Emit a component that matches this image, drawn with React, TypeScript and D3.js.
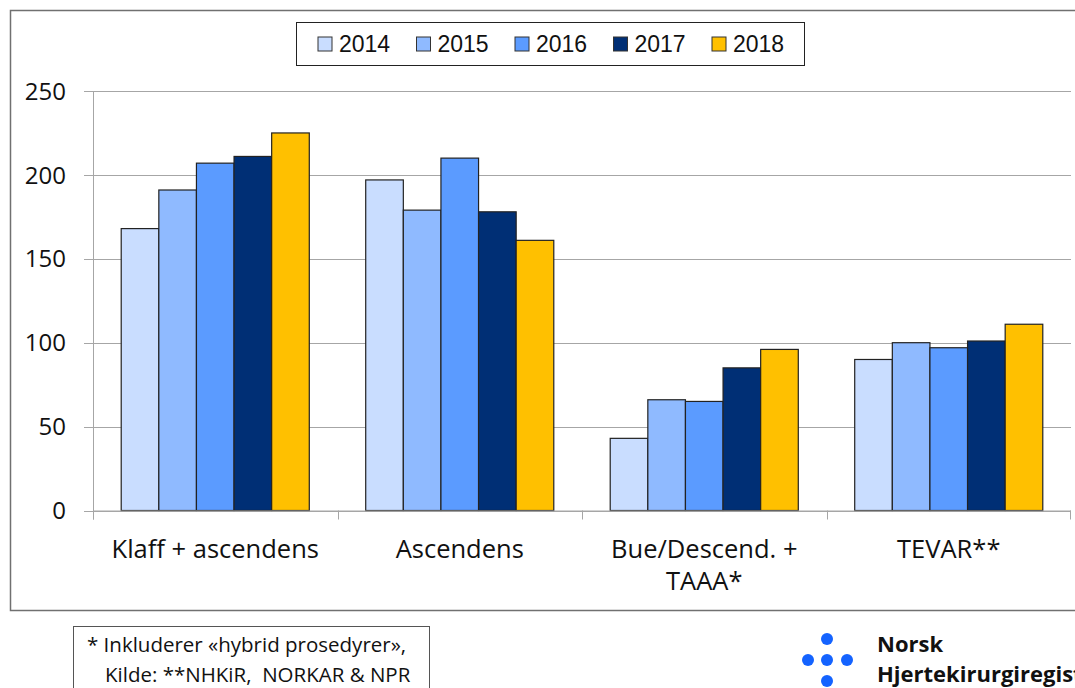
import * as d3 from "d3";

// data
const categories = ["Klaff + ascendens", "Ascendens", "Bue/Descend. +\nTAAA*", "TEVAR**"];
const years = ["2014", "2015", "2016", "2017", "2018"];
const v2014 = [168, 197, 43, 90];
const v2015 = [191, 179, 66, 100];
const v2016 = [207, 210, 65, 97];
const v2017 = [211, 178, 85, 101];
const v2018 = [225, 161, 96, 111];
const yTicks = [0, 50, 100, 150, 200, 250];

const series = [v2014, v2015, v2016, v2017, v2018];
const COLORS = ["#C9DDFF", "#8FBAFF", "#5B9BFF", "#002F75", "#FFC000"];

const W = 1075;
const H = 688;
const TICK_FONT = "'Open Sans', sans-serif";

export default function App() {
  const x0 = d3.scaleBand().domain(categories).range([93, 1071]).padding(0);
  const x1 = d3
    .scaleBand()
    .domain(years)
    .range([0, x0.bandwidth()])
    .paddingInner(0)
    .paddingOuter(0.75);
  const y = d3.scaleLinear().domain([0, 250]).range([510.5, 91]);

  const left = 93;
  const right = 1071;
  const base = y(0);

  return (
    <div style={{ position: "absolute", left: 0, top: 0, width: W, height: H, overflow: "hidden", background: "#fff" }}>
      <svg width={W} height={H} style={{ display: "block" }}>
        {/* outer frame */}
        <rect x={10.5} y={10.5} width={1080} height={600} fill="#fff" stroke="#707070" strokeWidth={1.5} />

        {/* grid + y ticks */}
        {yTicks.map((t) => (
          <g key={t}>
            <line x1={84} x2={right} y1={Math.round(y(t)) + 0.5} y2={Math.round(y(t)) + 0.5} stroke="#a6a6a6" strokeWidth={1} />
            <text
              x={66}
              y={y(t)}
              dy="0.36em"
              textAnchor="end"
              fontFamily={TICK_FONT}
              fontSize={24}
              fill="#111"
            >
              {t}
            </text>
          </g>
        ))}

        {/* y axis */}
        <line x1={left + 0.5} x2={left + 0.5} y1={y(250)} y2={base + 9} stroke="#a6a6a6" strokeWidth={1} />

        {/* x ticks */}
        {categories.map((c) => (
          <line
            key={c}
            x1={Math.round(x0(c)!) + 0.5}
            x2={Math.round(x0(c)!) + 0.5}
            y1={base}
            y2={base + 9}
            stroke="#a6a6a6"
          />
        ))}
        <line x1={right - 0.5} x2={right - 0.5} y1={base} y2={base + 9} stroke="#a6a6a6" />

        {/* bars */}
        {categories.map((c, ci) => (
          <g key={c} transform={`translate(${x0(c)},0)`}>
            {years.map((yr, yi) => {
              const v = series[yi][ci];
              return (
                <rect
                  key={yr}
                  x={x1(yr)}
                  y={y(v)}
                  width={x1.bandwidth()}
                  height={base - y(v)}
                  fill={COLORS[yi]}
                  stroke="#222"
                  strokeWidth={1.2}
                />
              );
            })}
          </g>
        ))}

        {/* x axis line */}
        <line x1={left} x2={right} y1={base + 0.5} y2={base + 0.5} stroke="#a6a6a6" />

        {/* category labels */}
        {categories.map((c) => (
          <text
            key={c}
            x={x0(c)! + x0.bandwidth() / 2}
            y={558}
            textAnchor="middle"
            fontFamily={TICK_FONT}
            fontSize={25.5}
            fill="#111"
          >
            {c.split("\n").map((line, i) => (
              <tspan key={i} x={x0(c)! + x0.bandwidth() / 2} dy={i === 0 ? 0 : 32}>
                {line}
              </tspan>
            ))}
          </text>
        ))}

        {/* legend */}
        <rect x={296.5} y={22.5} width={508} height={43} fill="#fff" stroke="#222" strokeWidth={1} />
        {years.map((yr, i) => {
          const lx = 318 + i * 98.5;
          return (
            <g key={yr}>
              <rect x={lx} y={37} width={14} height={14} fill={COLORS[i]} stroke="#333" strokeWidth={1} />
              <text x={lx + 21} y={52} fontFamily="'Liberation Sans', Arial, sans-serif" fontSize={23} fill="#111">
                {yr}
              </text>
            </g>
          );
        })}

        {/* footnote box */}
        <rect x={73.5} y={626.5} width={356} height={80} fill="#fff" stroke="#555" strokeWidth={1} />
        <text x={87} y={652} fontFamily={TICK_FONT} fontSize={20.5} fill="#111">
          * Inkluderer «hybrid prosedyrer»,
        </text>
        <text x={105} y={682} fontFamily={TICK_FONT} fontSize={20.5} fill="#111" style={{ whiteSpace: "pre" }}>
          {"Kilde: **NHKiR,\u00a0 NORKAR & NPR"}
        </text>

        {/* logo */}
        {[
          [827, 639],
          [808, 660],
          [827, 660],
          [847, 660],
          [827, 681],
        ].map(([cx, cy], i) => (
          <circle key={i} cx={cx} cy={cy} r={6} fill="#1463FF" />
        ))}
        <text x={877} y={652} fontFamily={TICK_FONT} fontWeight="bold" fontSize={22} fill="#111">
          Norsk
        </text>
        <text x={877} y={682} fontFamily={TICK_FONT} fontWeight="bold" fontSize={22} fill="#111">
          Hjertekirurgiregister
        </text>
      </svg>
    </div>
  );
}
